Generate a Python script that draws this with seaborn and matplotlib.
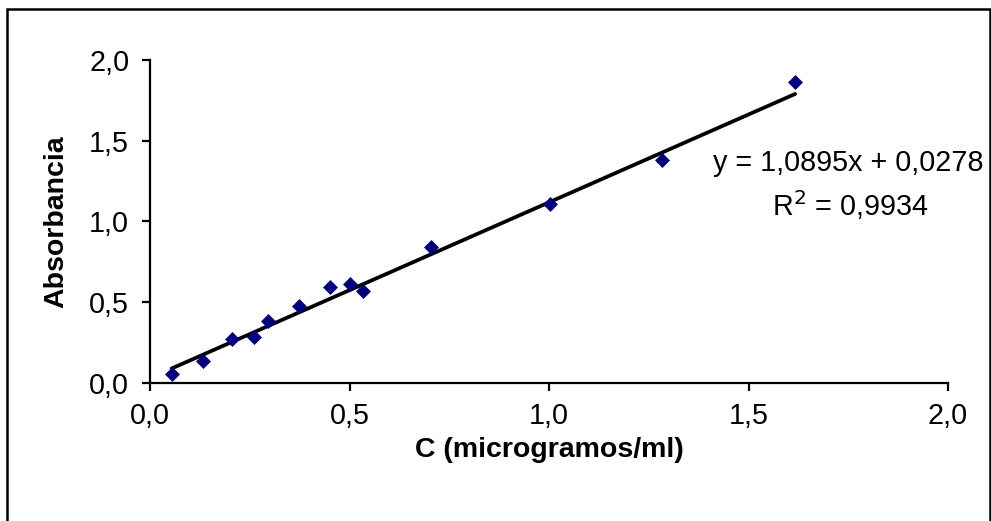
import matplotlib
matplotlib.use("Agg")
import matplotlib.pyplot as plt
import seaborn as sns
import numpy as np
import pandas as pd
from matplotlib.ticker import FuncFormatter, MultipleLocator
from matplotlib.patches import Rectangle

# Data
conc = [0.054, 0.134, 0.206, 0.261, 0.295, 0.373, 0.451, 0.501, 0.535, 0.704, 1.003, 1.283, 1.617]
absorb = [0.053, 0.133, 0.268, 0.280, 0.381, 0.476, 0.594, 0.612, 0.565, 0.842, 1.107, 1.379, 1.865]
slope = 1.0895
intercept = 0.0278
r2 = 0.9934
x_label = "C (microgramos/ml)"
y_label = "Absorbancia"

sns.set_theme(style="ticks")
plt.rcParams['font.family'] = ['Liberation Sans', 'DejaVu Sans']

df = pd.DataFrame({"C": conc, "A": absorb})
xs = np.array([min(conc), max(conc)])
fit = pd.DataFrame({"C": xs, "A": slope * xs + intercept})

fig = plt.figure(figsize=(9.91, 5.21), dpi=100)
ax = fig.add_axes([150 / 991, 1 - 382.5 / 521, (948 - 150) / 991, (382.5 - 60) / 521])

sns.lineplot(data=fit, x="C", y="A", ax=ax, color="black", linewidth=2.7, zorder=2)
sns.scatterplot(data=df, x="C", y="A", ax=ax, marker="D", s=58, color="#000080",
                edgecolor="#000080", linewidth=0, zorder=3)

ax.set_xlim(0, 2.0)
ax.set_ylim(0, 2.0)
ax.xaxis.set_major_locator(MultipleLocator(0.5))
ax.yaxis.set_major_locator(MultipleLocator(0.5))
fmt = FuncFormatter(lambda v, p: f"{v:.1f}".replace('.', ','))
ax.xaxis.set_major_formatter(fmt)
ax.yaxis.set_major_formatter(fmt)

for s in ["top", "right"]:
    ax.spines[s].set_visible(False)
for s in ["left", "bottom"]:
    ax.spines[s].set_color("black")
    ax.spines[s].set_linewidth(1.6)
ax.tick_params(axis="both", which="major", bottom=True, left=True, direction="out",
               length=6, width=1.6, color="black", labelsize=20.7, labelcolor="black")
ax.tick_params(axis="x", pad=8)
ax.tick_params(axis="y", pad=9)
for c in ax.collections:
    c.set_clip_on(False)

ax.set_xlabel(x_label, fontsize=20.5, fontweight="bold", labelpad=5, color="black")
ax.set_ylabel(y_label, fontsize=20.5, fontweight="bold", labelpad=14, color="black")

ax.text(1.75, 1.361, f"y = {slope:.4f}x + {intercept:.4f}".replace('.', ','),
        fontsize=20.7, ha="center", va="center", color="black")
ax.text(1.755, 1.10, "R$^2$ = " + f"{r2:.4f}".replace('.', ','),
        fontsize=20.7, ha="center", va="center", color="black")

fig.patches.append(Rectangle((7 / 991, -0.05), (990 - 7) / 991, (521 - 9.5) / 521 + 0.05,
                             transform=fig.transFigure, fill=False, edgecolor="black",
                             linewidth=1.8))

fig.savefig("out.png", dpi=100)
